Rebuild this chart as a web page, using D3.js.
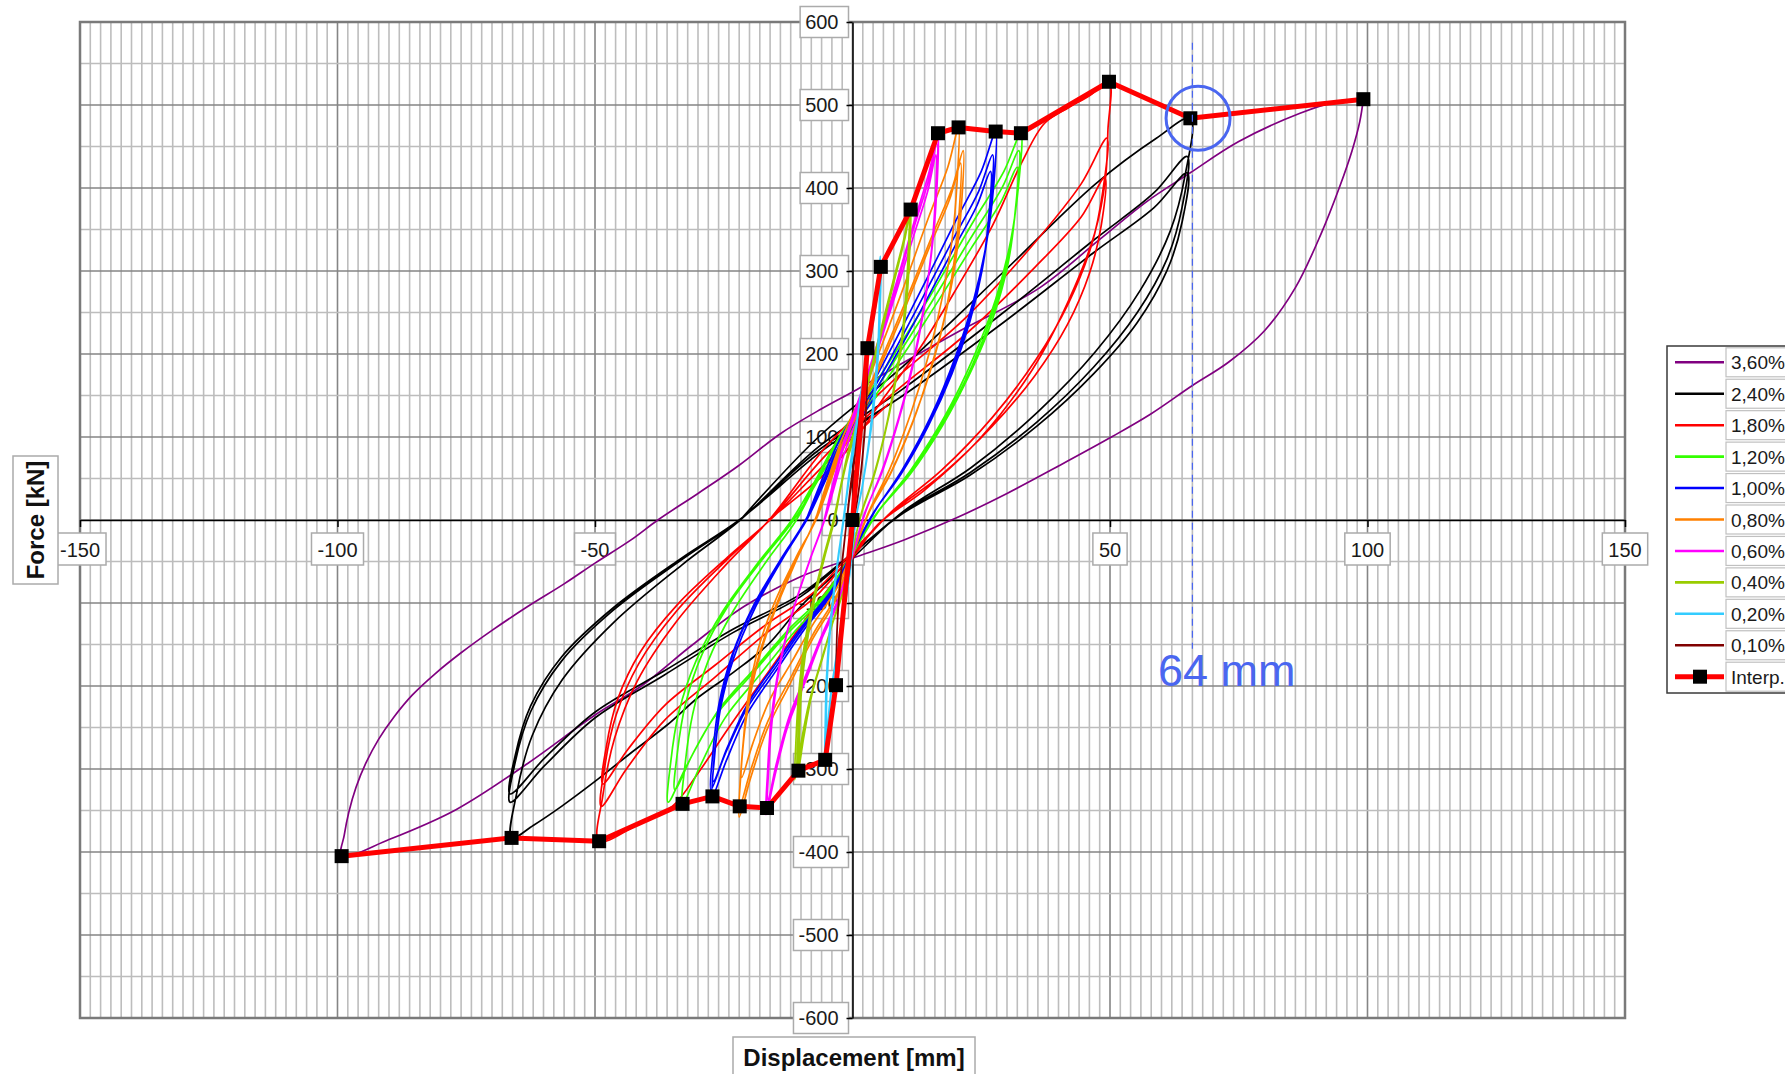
<!DOCTYPE html>
<html>
<head>
<meta charset="utf-8">
<script src="https://cdn.jsdelivr.net/npm/d3@7"></script>
<style>
    body { margin: 0; background: #ffffff; }
    text { font-family: "Liberation Sans", Arial, sans-serif; }
</style>
</head>
<body>
<div id="graph_hysteresis"></div>
<script>
// data : [displacement mm, force kN]
const drift360 = [
    [99.2, 507], [98.5, 480], [97, 445], [94.5, 400], [91, 345], [86, 280], [80, 228], [73, 190], [66, 162], [58, 128], [50, 99], [40, 65], [30, 32], [20, 2], [10, -24], [0, -46], [-10, -68], [-21, -104], [-31, -150], [-41, -200], [-50, -235], [-63, -293], [-77, -349], [-90, -385], [-99.2, -405],
    [-98.7, -380], [-97.8, -352], [-96.4, -322], [-94.5, -293], [-92, -264], [-89, -237], [-85.5, -211], [-81, -185], [-76, -160], [-70, -133], [-63, -104], [-56, -77], [-50, -52], [-43, -24], [-37.8, 0], [-30, 32], [-22, 66], [-14, 104], [-6, 134], [0.8, 157], [10, 190], [20, 225], [36.4, 280], [48, 338], [57, 383], [65.5, 418], [75, 456], [86.9, 490], [94, 504], [99.2, 507]
];

const drift240 = [
    [-21.8, 0], [-6.6, 100], [9.8, 185], [29.5, 300], [47.2, 405], [59, 460], [65.6, 484],
    [64.6, 416], [61.7, 348], [55.8, 276], [47.2, 203], [36.1, 131], [23, 63], [9.8, 10], [0, -46], [-9.9, -103], [-16.4, -150], [-23, -183], [-29.8, -213], [-36, -247], [-43.1, -281], [-50, -315], [-56.5, -345], [-62, -368], [-66.2, -383],
    [-65.2, -329], [-62.2, -260], [-56.3, -192], [-46.3, -123], [-33.1, -54], [-21.8, 0], [-6.6, 88], [9.8, 158], [29.3, 250], [46.8, 337], [58.5, 394], [65, 438],
    [64, 377], [61.1, 315], [55.3, 250], [46.8, 184], [35.8, 118], [22.8, 57], [9.8, 9], [0, -41], [-10, -92], [-23.3, -136], [-36.6, -187], [-49.9, -238], [-59.8, -296], [-66.5, -340],
    [-65.5, -292], [-62.5, -231], [-56.5, -170], [-46.5, -109], [-33.2, -48], [-22, 0], [-6.6, 84], [9.8, 150], [29.3, 238], [46.8, 322], [58.5, 376], [65, 418],
    [64, 359], [61.1, 301], [55.3, 238], [46.8, 176], [35.8, 113], [22.8, 54], [9.8, 8], [0, -40], [-10, -89], [-23.3, -132], [-36.6, -182], [-49.9, -231], [-59.8, -287], [-66.5, -330],
    [-65.5, -284], [-62.5, -224], [-56.5, -165], [-46.5, -106], [-33.2, -46], [-22, 0], [-6.6, 80], [5, 130]
];

const drift180 = [
    [-16.4, 0], [-3, 70], [6.4, 150], [13.4, 210], [20.3, 280], [27.2, 355], [32.8, 430], [37.3, 478], [42, 497], [46, 511], [49.8, 528],
    [49.6, 470], [49.1, 410], [47, 345], [42, 265], [35, 182], [25, 100], [14, 36], [5, -5], [0, -46], [-8, -110], [-16, -180], [-24, -250], [-30, -305], [-35, -345], [-42, -368], [-49.2, -387],
    [-48.5, -333], [-46.2, -263], [-41.8, -194], [-34.4, -124], [-24.6, -54], [-16.2, 0], [-4.9, 90], [7.4, 165], [22.2, 245], [35.5, 335], [44.4, 405], [49.4, 460],
    [48.6, 396], [46.4, 331], [42, 262], [35.6, 193], [27.2, 124], [17.3, 60], [7.4, 9], [0, -41], [-7.3, -93], [-17.1, -138], [-26.8, -190], [-36.6, -242], [-43.9, -300], [-48.8, -345],
    [-48.1, -297], [-45.9, -235], [-41.5, -173], [-34.2, -110], [-24.4, -48], [-16.1, 0], [-4.9, 80], [7.4, 150], [22.2, 225], [35.5, 305], [44.4, 365], [49, 413],
    [48.3, 355], [46, 297], [41.7, 235], [35.3, 173], [27, 112], [17.2, 54], [7.4, 8], [0, -38], [-7.3, -86], [-17, -127], [-26.7, -175], [-36.4, -223], [-43.7, -277], [-48.5, -318],
    [-47.8, -273], [-45.6, -216], [-41.2, -159], [-34, -102], [-24.3, -45], [-16, 0], [-4.9, 70], [7, 140]
];

const drift120 = [
    [-10.9, 0], [-3.3, 93], [4.8, 168], [14.7, 266], [23.5, 360], [29.4, 420], [32.7, 466],
    [32.2, 401], [30.7, 336], [27.8, 266], [23.5, 196], [18, 126], [11.4, 61], [4.9, 9], [0, -41], [-5, -92], [-11.6, -137], [-18.2, -188], [-24.8, -239], [-29.7, -298], [-33, -342],
    [-32.5, -294], [-31, -233], [-28.1, -171], [-23.1, -109], [-16.5, -48], [-10.9, 0], [-3.3, 89], [4.8, 160], [14.5, 254], [23.3, 343], [29.1, 401], [32.3, 445],
    [31.8, 383], [30.4, 320], [27.5, 254], [23.3, 187], [17.8, 120], [11.3, 58], [4.8, 9], [0, -41], [-5.4, -92], [-12.5, -136], [-19.7, -187], [-26.9, -238], [-32.2, -296], [-35.8, -340],
    [-35.3, -292], [-33.7, -231], [-30.4, -170], [-25.1, -109], [-17.9, -48], [-11.8, 0], [-3.6, 85], [4.8, 153], [14.4, 242], [23, 327], [28.8, 383], [32, 425],
    [31.5, 366], [30.1, 306], [27.2, 242], [23, 179], [17.6, 115], [11.2, 55], [4.8, 9], [0, -39], [-5.2, -88], [-12.1, -130], [-19, -179], [-25.9, -228], [-31.1, -283], [-34.5, -325],
    [-34, -280], [-32.4, -221], [-29.3, -163], [-24.2, -104], [-17.3, -46], [-11.4, 0], [-3.5, 80], [4.8, 150]
];

const drift100 = [
    [-9, 0], [-2.7, 94], [4.2, 168], [12.5, 267], [20, 360], [25, 420], [27.8, 468],
    [27.4, 402], [26.1, 337], [23.6, 267], [20, 197], [15.3, 126], [9.7, 61], [4.2, 9], [0, -40], [-4.1, -90], [-9.5, -133], [-15, -183], [-20.4, -233], [-24.5, -290], [-27.2, -333],
    [-26.8, -286], [-25.6, -226], [-23.1, -167], [-19, -107], [-13.6, -47], [-9, 0], [-2.7, 88], [4.1, 158], [12.2, 251], [19.6, 339], [24.5, 396], [27.2, 440],
    [26.8, 378], [25.6, 317], [23.1, 251], [19.6, 185], [15, 119], [9.5, 57], [4.1, 9], [0, -39], [-4.1, -88], [-9.6, -130], [-15.1, -179], [-20.6, -228], [-24.8, -283], [-27.5, -325],
    [-27.1, -280], [-25.9, -221], [-23.4, -163], [-19.3, -104], [-13.8, -46], [-9.1, 0], [-2.8, 84], [4, 151], [12.1, 239], [19.3, 323], [24.1, 378], [26.8, 420],
    [26.4, 361], [25.2, 302], [22.8, 239], [19.3, 176], [14.7, 113], [9.4, 55], [4, 8], [0, -38], [-4.1, -85], [-9.5, -126], [-14.9, -173], [-20.3, -221], [-24.3, -274], [-27, -315],
    [-26.6, -271], [-25.4, -214], [-23, -158], [-18.9, -101], [-13.5, -44], [-8.9, 0], [-2.7, 80], [4, 145]
];

const drift080 = [
    [-7.2, 0], [-2.2, 95], [3.1, 170], [9.3, 270], [14.8, 365], [18.5, 425], [20.6, 473],
    [20.3, 407], [19.4, 341], [17.5, 270], [14.8, 199], [11.3, 128], [7.2, 61], [3.1, 9], [0, -41], [-3.3, -93], [-7.7, -138], [-12, -190], [-16.4, -242], [-19.7, -300], [-21.9, -345],
    [-21.6, -297], [-20.6, -235], [-18.6, -173], [-15.3, -110], [-11, -48], [-7.2, 0], [-2.2, 89], [3.2, 160], [9.7, 254], [15.5, 343], [19.4, 401], [21.5, 445],
    [21.2, 383], [20.2, 320], [18.3, 254], [15.5, 187], [11.8, 120], [7.5, 58], [3.2, 9], [0, -43], [-3.3, -97], [-7.7, -143], [-12.1, -197], [-16.5, -251], [-19.8, -311], [-22, -358],
    [-21.7, -308], [-20.7, -243], [-18.7, -179], [-15.4, -115], [-11, -50], [-7.3, 0], [-2.2, 86], [3.2, 155], [9.5, 245], [15.1, 331], [18.9, 387], [21, 430],
    [20.7, 370], [19.7, 310], [17.9, 245], [15.1, 181], [11.6, 116], [7.4, 56], [3.2, 9], [0, -37], [-3.2, -84], [-7.5, -124], [-11.8, -171], [-16.1, -217], [-19.4, -270], [-21.5, -310],
    [-21.2, -267], [-20.2, -211], [-18.3, -155], [-15.1, -99], [-10.8, -43], [-7.1, 0], [-2.2, 80], [3.2, 145]
];

const drift060 = [
    [-5.5, 0], [-1.7, 93], [2.5, 168], [7.5, 265], [12, 360], [14.9, 420], [16.6, 466],
    [16.4, 401], [15.6, 336], [14.1, 266], [12, 196], [9.1, 126], [5.8, 61], [2.5, 9], [0, -42], [-2.5, -94], [-5.8, -139], [-9.1, -191], [-12.5, -243], [-14.9, -302], [-16.6, -347],
    [-16.4, -298], [-15.6, -236], [-14.1, -174], [-11.6, -111], [-8.3, -49], [-5.5, 0], [-1.7, 91], [2.5, 164], [7.4, 259], [11.8, 350], [14.8, 410], [16.4, 455],
    [16.2, 391], [15.4, 328], [13.9, 259], [11.8, 191], [9, 123], [5.7, 59], [2.5, 9], [0, -43], [-2.5, -96], [-5.9, -142], [-9.2, -195], [-12.6, -249], [-15.1, -309], [-16.8, -355],
    [-16.5, -305], [-15.8, -241], [-14.3, -178], [-11.8, -114], [-8.4, -50], [-5.5, 0], [-1.7, 88], [2.4, 158], [7.3, 251], [11.7, 339], [14.6, 396], [16.2, 440],
    [16, 378], [15.2, 317], [13.8, 251], [11.7, 185], [8.9, 119], [5.7, 57], [2.4, 9], [0, -41], [-2.5, -91], [-5.7, -135], [-9, -186], [-12.3, -237], [-14.8, -294], [-16.4, -338],
    [-16.2, -291], [-15.4, -230], [-13.9, -169], [-11.5, -108], [-8.2, -47], [-5.4, 0], [-1.6, 80], [2.4, 145]
];

const drift040 = [
    [-3.5, 0], [-1.1, 75], [1.7, 135], [5.1, 213], [8.1, 288], [10.2, 340], [11.3, 374],
    [11.1, 322], [10.6, 269], [9.6, 213], [8.1, 157], [6.2, 101], [4, 49], [1.7, 7], [0, -36], [-1.6, -82], [-3.7, -121], [-5.8, -166], [-7.9, -211], [-9.5, -263], [-10.5, -302],
    [-10.3, -260], [-9.9, -205], [-8.9, -151], [-7.4, -97], [-5.3, -42], [-3.5, 0], [-1.1, 76], [1.7, 137], [5, 217], [8.1, 293], [10.1, 342], [11.2, 380],
    [11, 327], [10.5, 274], [9.5, 217], [8.1, 160], [6.2, 103], [3.9, 49], [1.7, 8], [0, -38], [-1.7, -85], [-3.9, -125], [-6.2, -172], [-8.4, -219], [-10.1, -272], [-11.2, -313],
    [-11, -269], [-10.5, -213], [-9.5, -157], [-7.8, -100], [-5.6, -44], [-3.7, 0], [-1.1, 74], [1.7, 133], [5, 211], [7.9, 285], [9.9, 333], [11, 370],
    [10.8, 318], [10.3, 266], [9.4, 211], [7.9, 155], [6.1, 100], [3.9, 48], [1.7, 7], [0, -37], [-1.6, -82], [-3.8, -122], [-5.9, -168], [-8.1, -214], [-9.7, -265], [-10.8, -305],
    [-10.6, -262], [-10.2, -207], [-9.2, -153], [-7.6, -98], [-5.4, -43], [-3.6, 0], [-1.1, 70], [1.7, 125]
];

const drift020 = [
    [-1.7, 0], [-0.5, 64], [0.8, 118], [2.5, 190], [4, 250], [4.9, 285], [5.5, 305],
    [5.4, 262], [5.2, 220], [4.7, 174], [4, 128], [3, 82], [1.9, 40], [0.8, 6], [0, -35], [-0.8, -78], [-1.9, -116], [-2.9, -159], [-4, -202], [-4.8, -251], [-5.3, -289],
    [-5.2, -249], [-5, -197], [-4.5, -145], [-3.7, -92], [-2.7, -40], [-1.7, 0], [-0.5, 64], [0.8, 114], [2.4, 181], [3.9, 245], [4.9, 286], [5.4, 318],
    [5.3, 273], [5.1, 229], [4.6, 181], [3.9, 134], [3, 86], [1.9, 41], [0.8, 6], [0, -35], [-0.8, -78], [-1.9, -116], [-3, -160], [-4.1, -203], [-4.9, -252], [-5.4, -290],
    [-5.3, -249], [-5.1, -197], [-4.6, -145], [-3.8, -93], [-2.7, -41], [-1.8, 0], [-0.5, 60], [0.8, 108], [2.4, 171], [3.8, 231], [4.8, 270], [5.3, 300],
    [5.2, 258], [5, 216], [4.5, 171], [3.8, 126], [2.9, 81], [1.9, 39], [0.8, 6], [0, -34], [-0.8, -76], [-1.8, -112], [-2.9, -154], [-3.9, -196], [-4.7, -244], [-5.2, -280],
    [-5.1, -241], [-4.9, -190], [-4.4, -140], [-3.6, -90], [-2.6, -39], [-1.7, 0], [-0.5, 56], [0.8, 100]
];

const drift010 = [
    [-1.1, 0], [-0.3, 45], [0.4, 75], [1.3, 120], [2.1, 160], [2.6, 188], [2.9, 207],
    [2.86, 178], [2.73, 149], [2.47, 118], [2.09, 87], [1.6, 56], [1, 27], [0.4, 4], [0, -24], [-0.5, -54], [-1.1, -80], [-1.8, -109], [-2.4, -139], [-2.9, -173], [-3.2, -199],
    [-3.15, -171], [-3, -135], [-2.7, -100], [-2.2, -64], [-1.6, -28], [-1.1, 0], [-0.3, 40], [0.4, 72], [1.3, 114], [2.1, 154], [2.6, 180], [2.9, 200],
    [2.86, 172], [2.73, 144], [2.47, 114], [2.09, 84], [1.6, 54], [1, 26], [0.4, 4], [0, -23], [-0.5, -53], [-1.1, -78], [-1.8, -107], [-2.4, -137], [-2.9, -170], [-3.2, -195],
    [-3.15, -168], [-3, -133], [-2.7, -98], [-2.2, -62], [-1.6, -27], [-1.1, 0], [-0.3, 38], [0.4, 60]
];

// envelope (interp.)
const interpDispl = [-99.2, -66.2, -49.2, -33, -27.2, -21.9, -16.6, -10.5, -5.3, -3.2, 0, 2.9, 5.5, 11.3, 16.6, 20.6, 27.8, 32.7, 49.8, 65.6, 99.2];
const interpForce = [-405, -383, -387, -342, -333, -345, -347, -302, -289, -199, 0, 207, 305, 374, 466, 473, 468, 466, 528, 484, 507];

const seriesNames = ["3,60%", "2,40%", "1,80%", "1,20%", "1,00%", "0,80%", "0,60%", "0,40%", "0,20%", "0,10%"];
const seriesData = [drift360, drift240, drift180, drift120, drift100, drift080, drift060, drift040, drift020, drift010];
const interpName = "Interp.";

const xTicks = [-150, -100, -50, 0, 50, 100, 150];
const xTickLabels = ["-150", "-100", "-50", "0", "50", "100", "150"];
const yTicks = [600, 500, 400, 300, 200, 100, 0, -100, -200, -300, -400, -500, -600];
const yTickLabels = ["600", "500", "400", "300", "200", "100", "0", "-100", "-200", "-300", "-400", "-500", "-600"];

const markDispl = 66;       // dashed line
const markLabel = "64 mm";

// colours
const seriesColors = ["#800080", "#000000", "#ff0000", "#33ff00", "#0000ff", "#ff8000", "#ff00ff", "#99cc00", "#33ccff", "#800000"];
const markColor = "#4a66f0";


const svg = d3.select("#graph_hysteresis")
    .append("svg")
    .attr("width", 1785)
    .attr("height", 1074);

var x = d3.scaleLinear()
    .domain([-150, 150])
    .range([80, 1625]);

var y = d3.scaleLinear()
    .domain([-600, 600])
    .range([1018, 22]);


// grid
const grid = svg.append("g");

grid.selectAll(".vgrid")
    .data(d3.range(-150, 150.1, 2))
    .enter()
    .append("line")
    .attr("x1", d => x(d))
    .attr("x2", d => x(d))
    .attr("y1", y(600))
    .attr("y2", y(-600))
    .attr("stroke", d => d % 50 == 0 ? "#858585" : "#bdbdbd")
    .attr("stroke-width", 1.6);

grid.selectAll(".hgrid")
    .data(d3.range(-600, 600.1, 50))
    .enter()
    .append("line")
    .attr("x1", x(-150))
    .attr("x2", x(150))
    .attr("y1", d => y(d))
    .attr("y2", d => y(d))
    .attr("stroke", d => d % 100 == 0 ? "#858585" : "#bdbdbd")
    .attr("stroke-width", 1.6);

grid.append("rect")
    .attr("x", x(-150))
    .attr("y", y(600))
    .attr("width", x(150) - x(-150))
    .attr("height", y(-600) - y(600))
    .attr("fill", "none")
    .attr("stroke", "#7a7a7a")
    .attr("stroke-width", 2.5);
//end grid


// tick labels in boxes
const xLab = svg.append("g")
    .selectAll("g")
    .data(xTicks)
    .enter()
    .append("g")
    .attr("transform", d => "translate(" + x(d) + "," + y(0) + ")");

xLab.append("rect").attr("class", "box");
xLab.append("text")
    .attr("y", 37)
    .attr("text-anchor", "middle")
    .style("font-size", "20px")
    .attr("fill", "#1a1a1a")
    .text((d, i) => xTickLabels[i]);

xLab.each(function() {
    const w = d3.select(this).select("text").node().getComputedTextLength();
    d3.select(this).select("rect")
        .attr("x", -w / 2 - 6)
        .attr("y", 13)
        .attr("width", w + 12)
        .attr("height", 32);
});

const yLab = svg.append("g")
    .selectAll("g")
    .data(yTicks)
    .enter()
    .append("g")
    .attr("transform", d => "translate(" + x(0) + "," + y(d) + ")");

yLab.append("rect").attr("class", "box");
yLab.append("text")
    .attr("x", -14)
    .attr("y", 7)
    .attr("text-anchor", "end")
    .style("font-size", "20px")
    .attr("fill", "#1a1a1a")
    .text((d, i) => yTickLabels[i]);

yLab.each(function() {
    const w = d3.select(this).select("text").node().getComputedTextLength();
    d3.select(this).select("rect")
        .attr("x", -14 - w - 5)
        .attr("y", -15.5)
        .attr("width", w + 15)
        .attr("height", 31);
});

svg.selectAll("rect.box")
    .attr("fill", "#ffffff")
    .attr("stroke", "#ababab")
    .attr("stroke-width", 1.5);


// axes through zero
svg.append("g")
    .attr("transform", "translate(0," + y(0) + ")")
    .call(d3.axisBottom(x).tickValues(xTicks).tickSize(7).tickSizeOuter(0).tickFormat(""))
    .call(g => g.selectAll("path, line").attr("stroke", "#000").attr("stroke-width", 1.5));

svg.append("g")
    .attr("transform", "translate(" + x(0) + ",0)")
    .call(d3.axisLeft(y).tickValues(yTicks).tickSize(6).tickSizeOuter(0).tickFormat(""))
    .call(g => g.selectAll("path, line").attr("stroke", "#000").attr("stroke-width", 1.5));


// loops
const loopLine = d3.line()
    .x(d => x(d[0]))
    .y(d => y(d[1]))
    .curve(d3.curveCatmullRom.alpha(0.5));

svg.append("g")
    .selectAll("path")
    .data(seriesData)
    .enter()
    .append("path")
    .attr("d", d => loopLine(d))
    .attr("fill", "none")
    .attr("stroke", (d, i) => seriesColors[i])
    .attr("stroke-width", 1.7)
    .attr("stroke-linejoin", "round");


// interp envelope
const interpData = interpDispl.map((d, i) => [d, interpForce[i]]);

svg.append("path")
    .attr("d", d3.line().x(d => x(d[0])).y(d => y(d[1]))(interpData))
    .attr("fill", "none")
    .attr("stroke", "#ff0000")
    .attr("stroke-width", 5)
    .attr("stroke-linejoin", "round");

svg.append("g")
    .selectAll("rect")
    .data(interpData)
    .enter()
    .append("rect")
    .attr("x", d => x(d[0]) - 7)
    .attr("y", d => y(d[1]) - 7)
    .attr("width", 14)
    .attr("height", 14)
    .attr("fill", "#000");


// 64 mm mark
svg.append("line")
    .attr("x1", x(markDispl))
    .attr("x2", x(markDispl))
    .attr("y1", y(575))
    .attr("y2", y(-155))
    .attr("stroke", markColor)
    .attr("stroke-width", 1.2)
    .attr("stroke-dasharray", "7,5");

svg.append("circle")
    .attr("cx", x(67.1))
    .attr("cy", y(484))
    .attr("r", 32)
    .attr("fill", "none")
    .attr("stroke", markColor)
    .attr("stroke-width", 3);

svg.append("text")
    .attr("x", x(59.3))
    .attr("y", y(-200))
    .style("font-size", "45px")
    .attr("fill", markColor)
    .text(markLabel);


// axis titles
svg.append("rect")
    .attr("x", 13).attr("y", 456).attr("width", 45).attr("height", 128)
    .attr("fill", "#fff").attr("stroke", "#ababab").attr("stroke-width", 1.5);

svg.append("text")
    .attr("transform", "translate(44,520) rotate(-90)")
    .attr("text-anchor", "middle")
    .style("font-size", "24px")
    .style("font-weight", "bold")
    .attr("fill", "#111")
    .text("Force [kN]");

svg.append("rect")
    .attr("x", 733).attr("y", 1037).attr("width", 242).attr("height", 45)
    .attr("fill", "#fff").attr("stroke", "#ababab").attr("stroke-width", 1.5);

svg.append("text")
    .attr("x", 854)
    .attr("y", 1066)
    .attr("text-anchor", "middle")
    .style("font-size", "24px")
    .style("font-weight", "bold")
    .attr("fill", "#111")
    .text("Displacement [mm]");


// legend
const legend = svg.append("g");

legend.append("rect")
    .attr("x", 1667).attr("y", 346).attr("width", 160).attr("height", 347)
    .attr("fill", "#fff").attr("stroke", "#3a3a3a").attr("stroke-width", 1.5);

const legendNames = seriesNames.concat([interpName]);

const row = legend.selectAll(".row")
    .data(legendNames)
    .enter()
    .append("g")
    .attr("transform", (d, i) => "translate(0," + (362.3 + i * 31.44) + ")");

row.append("rect")
    .attr("x", 1726).attr("y", -14.5).attr("width", 100).attr("height", 29)
    .attr("fill", "#fff").attr("stroke", "#c0c0c0").attr("stroke-width", 1.2);

row.append("line")
    .attr("x1", 1675).attr("x2", 1724)
    .attr("stroke", (d, i) => i < seriesColors.length ? seriesColors[i] : "#ff0000")
    .attr("stroke-width", (d, i) => i < seriesColors.length ? 2.6 : 5);

row.filter((d, i) => i == legendNames.length - 1)
    .append("rect")
    .attr("x", 1693).attr("y", -7).attr("width", 14).attr("height", 14)
    .attr("fill", "#000");

row.append("text")
    .attr("x", 1731)
    .attr("y", 7)
    .style("font-size", "19px")
    .attr("fill", "#1a1a1a")
    .text(d => d);
//end legend
</script>
</body>
</html>
